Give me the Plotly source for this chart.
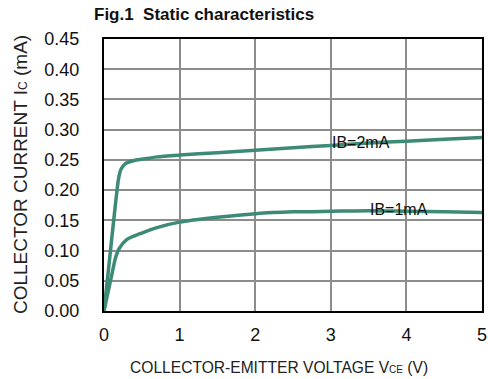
import plotly.graph_objects as go

vce_2ma = [0, 0.05, 0.1, 0.15, 0.19, 0.22, 0.26, 0.3, 0.4, 0.5, 0.7, 1.0, 1.5, 2.0, 2.5, 3.0, 3.5, 4.0, 4.5, 5.0]
ic_2ma = [0, 0.058, 0.117, 0.175, 0.217, 0.233, 0.241, 0.245, 0.249, 0.251, 0.255, 0.258, 0.262, 0.266, 0.270, 0.274, 0.278, 0.281, 0.284, 0.287]

vce_1ma = [0, 0.05, 0.1, 0.15, 0.2, 0.3, 0.5, 0.7, 1.0, 1.5, 2.0, 2.5, 3.0, 3.5, 4.0, 4.5, 5.0]
ic_1ma = [0, 0.029, 0.058, 0.087, 0.103, 0.118, 0.129, 0.138, 0.147, 0.155, 0.161, 0.164, 0.165, 0.166, 0.165, 0.164, 0.163]

labels = ["IB=2mA", "IB=1mA"]
label_x = [3.4, 3.9]
label_y = [0.279, 0.168]

y_ticks = [0, 0.05, 0.1, 0.15, 0.2, 0.25, 0.3, 0.35, 0.4, 0.45]
x_ticks = [0, 1, 2, 3, 4, 5]

color = "#3d8a76"
FONT = "Liberation Sans, Arial, sans-serif"

fig = go.Figure()
fig.add_trace(go.Scatter(x=vce_2ma, y=ic_2ma, mode="lines",
                         line=dict(color=color, width=3.5, shape="spline", smoothing=0.6)))
fig.add_trace(go.Scatter(x=vce_1ma, y=ic_1ma, mode="lines",
                         line=dict(color=color, width=3.5, shape="spline", smoothing=0.6)))

for t, x, y in zip(labels, label_x, label_y):
    fig.add_annotation(x=x, y=y, text=t, showarrow=False,
                       font=dict(family=FONT, size=16, color="#111"))

fig.add_annotation(xref="paper", yref="paper", x=0.463, y=0, yshift=-56,
                   xanchor="center", yanchor="middle",
                   text="COLLECTOR-EMITTER VOLTAGE V<span style='font-size:10px'>CE</span> (V)",
                   showarrow=False, font=dict(family=FONT, size=15.6, color="#222"))
fig.add_annotation(xref="paper", yref="paper", x=-0.222, y=0.5, textangle=-90,
                   xanchor="center", yanchor="middle",
                   text="COLLECTOR CURRENT I<span style='font-size:12px'>C</span> (mA)",
                   showarrow=False, font=dict(family=FONT, size=19, color="#222"))
fig.add_annotation(xref="paper", yref="paper", x=-0.032, y=1, yshift=25,
                   xanchor="left", yanchor="middle",
                   text="<b>Fig.1  Static characteristics</b>",
                   showarrow=False, font=dict(family=FONT, size=17, color="#111"))

fig.update_layout(
    width=488, height=379,
    margin=dict(l=104, r=6, t=39, b=68, autoexpand=False),
    paper_bgcolor="white", plot_bgcolor="white",
    showlegend=False,
    font=dict(family=FONT, color="#111"),
)
fig.update_xaxes(range=[0, 5], tickvals=x_ticks, showgrid=True, gridcolor="#8c8c8c", gridwidth=1.5,
                 showline=True, linecolor="black", linewidth=2, mirror=True, zeroline=False,
                 ticks="outside", ticklen=6, tickcolor="rgba(0,0,0,0)", automargin=False,
                 tickfont=dict(size=18, family=FONT))
fig.update_yaxes(range=[0, 0.45], tickvals=y_ticks, tickformat=".2f", showgrid=True,
                 gridcolor="#8c8c8c", gridwidth=1.5,
                 showline=True, linecolor="black", linewidth=2, mirror=True, zeroline=False,
                 ticks="outside", ticklen=19, tickcolor="rgba(0,0,0,0)", automargin=False,
                 tickfont=dict(size=18, family=FONT))

fig.write_html("out.html", config={"displayModeBar": False},
               post_script="document.body.style.margin='0';")
